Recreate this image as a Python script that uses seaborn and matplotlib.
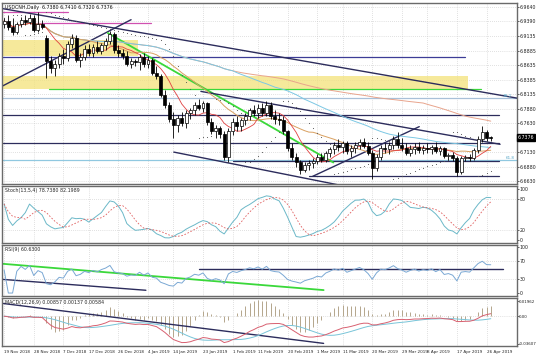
import numpy as np
import pandas as pd
import matplotlib
matplotlib.use("Agg")
import matplotlib.pyplot as plt
import matplotlib.transforms as mtransforms
import seaborn as sns

sns.set_theme(style="white")
plt.rcParams['font.family'] = ['Liberation Sans Narrow', 'DejaVu Sans']

# ---------------- data (daily USDCNH) ----------------
opens = [6.935, 6.940, 6.930, 6.920, 6.935, 6.942, 6.938, 6.945, 6.925, 6.935,
         6.910, 6.870, 6.858, 6.866, 6.880, 6.875, 6.900, 6.910, 6.872, 6.878,
         6.892, 6.885, 6.895, 6.888, 6.898, 6.905, 6.918, 6.890, 6.884, 6.880,
         6.866, 6.870, 6.868, 6.878, 6.865, 6.872, 6.850, 6.845, 6.812, 6.795,
         6.770, 6.760, 6.772, 6.764, 6.780, 6.785, 6.795, 6.790, 6.798, 6.765,
         6.750, 6.755, 6.745, 6.705, 6.750, 6.765, 6.758, 6.768, 6.775, 6.785,
         6.780, 6.790, 6.780, 6.795, 6.775, 6.770, 6.768, 6.750, 6.720, 6.705,
         6.695, 6.682, 6.690, 6.694, 6.698, 6.704, 6.700, 6.712, 6.718, 6.726,
         6.722, 6.728, 6.715, 6.720, 6.725, 6.730, 6.724, 6.712, 6.685, 6.705,
         6.720, 6.718, 6.725, 6.735, 6.725, 6.720, 6.712, 6.718, 6.722, 6.716,
         6.720, 6.718, 6.722, 6.715, 6.720, 6.706, 6.708, 6.703, 6.678, 6.702,
         6.704, 6.702, 6.716, 6.735, 6.748, 6.7380]
highs = [6.945, 6.950, 6.945, 6.938, 6.946, 6.950, 6.952, 6.950, 6.955, 6.942,
         6.915, 6.880, 6.872, 6.885, 6.892, 6.905, 6.918, 6.915, 6.885, 6.898,
         6.900, 6.900, 6.905, 6.902, 6.910, 6.922, 6.920, 6.898, 6.892, 6.888,
         6.876, 6.874, 6.882, 6.885, 6.880, 6.876, 6.862, 6.848, 6.820, 6.800,
         6.782, 6.778, 6.782, 6.785, 6.790, 6.800, 6.805, 6.802, 6.800, 6.772,
         6.760, 6.758, 6.750, 6.755, 6.772, 6.775, 6.772, 6.780, 6.790, 6.795,
         6.796, 6.798, 6.802, 6.800, 6.785, 6.780, 6.775, 6.752, 6.728, 6.712,
         6.700, 6.695, 6.700, 6.702, 6.710, 6.712, 6.715, 6.722, 6.730, 6.735,
         6.732, 6.732, 6.725, 6.730, 6.735, 6.738, 6.730, 6.716, 6.710, 6.725,
         6.728, 6.730, 6.740, 6.748, 6.738, 6.728, 6.725, 6.728, 6.730, 6.725,
         6.728, 6.726, 6.730, 6.724, 6.722, 6.712, 6.714, 6.706, 6.706, 6.708,
         6.710, 6.720, 6.740, 6.758, 6.752, 6.7410]
lows = [6.928, 6.925, 6.915, 6.918, 6.930, 6.932, 6.934, 6.920, 6.920, 6.926,
        6.842, 6.850, 6.845, 6.858, 6.866, 6.870, 6.893, 6.868, 6.860, 6.872,
        6.880, 6.878, 6.884, 6.882, 6.890, 6.900, 6.885, 6.878, 6.874, 6.862,
        6.858, 6.862, 6.855, 6.860, 6.858, 6.846, 6.840, 6.808, 6.790, 6.765,
        6.737, 6.748, 6.758, 6.755, 6.770, 6.778, 6.785, 6.782, 6.760, 6.745,
        6.738, 6.738, 6.700, 6.695, 6.742, 6.750, 6.750, 6.760, 6.768, 6.775,
        6.772, 6.775, 6.775, 6.770, 6.762, 6.760, 6.745, 6.715, 6.700, 6.688,
        6.675, 6.678, 6.682, 6.685, 6.692, 6.695, 6.696, 6.705, 6.710, 6.715,
        6.712, 6.710, 6.705, 6.712, 6.718, 6.720, 6.708, 6.667, 6.680, 6.700,
        6.712, 6.710, 6.718, 6.720, 6.715, 6.708, 6.706, 6.710, 6.712, 6.710,
        6.712, 6.710, 6.712, 6.708, 6.702, 6.700, 6.698, 6.672, 6.675, 6.698,
        6.698, 6.700, 6.712, 6.730, 6.733, 6.7320]
closes = [6.940, 6.930, 6.920, 6.935, 6.942, 6.938, 6.945, 6.925, 6.935, 6.930,
          6.870, 6.858, 6.866, 6.880, 6.875, 6.900, 6.910, 6.872, 6.878, 6.892,
          6.885, 6.895, 6.888, 6.898, 6.905, 6.918, 6.890, 6.884, 6.880, 6.866,
          6.870, 6.868, 6.878, 6.865, 6.872, 6.850, 6.845, 6.812, 6.795, 6.770,
          6.760, 6.772, 6.764, 6.780, 6.785, 6.795, 6.790, 6.798, 6.765, 6.750,
          6.755, 6.745, 6.705, 6.750, 6.765, 6.758, 6.768, 6.775, 6.785, 6.780,
          6.790, 6.780, 6.795, 6.775, 6.770, 6.768, 6.750, 6.720, 6.705, 6.695,
          6.682, 6.690, 6.694, 6.698, 6.704, 6.700, 6.712, 6.718, 6.726, 6.722,
          6.728, 6.715, 6.720, 6.725, 6.730, 6.724, 6.712, 6.685, 6.705, 6.720,
          6.718, 6.725, 6.735, 6.725, 6.720, 6.712, 6.718, 6.722, 6.716, 6.720,
          6.718, 6.722, 6.715, 6.720, 6.706, 6.708, 6.703, 6.678, 6.702, 6.704,
          6.702, 6.716, 6.735, 6.748, 6.738, 6.7376]

date_labels = ["19 Nov 2018", "28 Nov 2018", "7 Dec 2018", "17 Dec 2018", "26 Dec 2018",
               "4 Jan 2019", "14 Jan 2019", "23 Jan 2019", "1 Feb 2019", "11 Feb 2019",
               "20 Feb 2019", "1 Mar 2019", "11 Mar 2019", "20 Mar 2019", "29 Mar 2019",
               "8 Apr 2019", "17 Apr 2019", "26 Apr 2019"]
price_ticks = [6.9640, 6.9390, 6.9135, 6.8885, 6.8635, 6.8385, 6.8135, 6.7880,
               6.7630, 6.7130, 6.6880, 6.6630]
last_price = 6.7376
stoch_ticks = [100, 80, 20, 0]
rsi_ticks = [100, 70, 30, 0]
macd_ticks = [0.01962, 0.0, -0.03607]
macd_tick_labels = ["0.01962", "0.00", "-0.03607"]

title_main = "USDCNH,Daily  6.7380 6.7410 6.7320 6.7376"
title_stoch = "Stoch(13,5,4) 78.7380 82.1989"
title_rsi = "RSI(9) 60.6300"
title_macd = "MACD(12,26,9) 0.00857 0.00137 0.00584"

# drawn objects (bar index, price)
zones = [(-1, 31.6, 6.879, 6.9075), (-1, 109.7, 6.8225, 6.845)]
hlines = [(6.877, -1, 109, "#3c3c96"), (6.806, -1, 122, "#a8c0d8"),
          (6.778, -1, 117, "#2c2c5c"), (6.7295, -1, 117, "#2c2c5c"),
          (6.699, -1, 122, "#90c8e0"), (6.697, 54, 117, "#2c2c5c"),
          (6.672, 72, 117, "#2c2c5c"), (6.8225, 10.6, 112.7, "#3ad83a"),
          (6.955, -1, 15, "#d050b0"), (6.936, 7.5, 34.7, "#d050b0")]
tlines = [((-1, 6.962), (121.5, 6.806), "#2c2c5c", 1.0),
          ((-1, 6.825), (30, 6.942), "#2c2c5c", 1.0),
          ((24.5, 6.919), (77.8, 6.695), "#3ad83a", 1.3),
          ((46.5, 6.818), (117.2, 6.7265), "#2c2c5c", 1.0),
          ((40.1, 6.713), (81.6, 6.6525), "#2c2c5c", 1.0),
          ((72.9, 6.671), (98.1, 6.757), "#2c2c5c", 1.0)]
rsi_lines = [((-1, 63.8), (75.5, 6.4), "#3ad83a", 1.3),
             ((-1, 30.0), (33.5, 6.0), "#2c2c5c", 1.0),
             ((46, 51.0), (118, 51.0), "#2c2c5c", 1.0)]
macd_lines = [((-1, 0.017), (75.5, -0.0353), "#2c2c5c", 1.0)]

# ---------------- frame ----------------
n = len(closes)
dates = pd.bdate_range("2018-11-19", periods=n)
df = pd.DataFrame({"i": np.arange(n), "open": opens, "high": highs,
                   "low": lows, "close": closes}, index=dates)
c = df["close"]; h = df["high"]; l = df["low"]

df["ma_fast"] = c.rolling(8, min_periods=1).mean()
df["ma_mid"] = c.rolling(21, min_periods=1).mean()
df["ma_slow"] = c.rolling(55, min_periods=1).mean()
df["ma_vslow"] = c.rolling(100, min_periods=1).mean()

hh = h.rolling(13, min_periods=1).max(); ll = l.rolling(13, min_periods=1).min()
num = (c - ll).rolling(4, min_periods=1).sum(); den = (hh - ll).rolling(4, min_periods=1).sum()
df["stk"] = 100 * num / den.replace(0, np.nan)
df["std"] = df["stk"].rolling(5, min_periods=1).mean()
d = c.diff().fillna(0)
up = d.clip(lower=0).ewm(alpha=1/9, adjust=False).mean()
dn = (-d.clip(upper=0)).ewm(alpha=1/9, adjust=False).mean()
df["rsi"] = (100 - 100 / (1 + up / dn.replace(0, np.nan))).fillna(50)
df["macd"] = c.ewm(span=12, adjust=False).mean() - c.ewm(span=26, adjust=False).mean()
df["sig"] = df["macd"].rolling(9, min_periods=1).mean()
df["hist"] = df["macd"] - df["sig"]

def psar(hi, lo, step=0.02, mx=0.2):
    hi = np.asarray(hi); lo = np.asarray(lo)
    out = np.zeros(len(hi)); bull = False; af = step; ep = lo[0]; out[0] = hi[0]
    for k in range(1, len(hi)):
        s = out[k-1] + af * (ep - out[k-1])
        if bull:
            s = min(s, lo[k-1], lo[max(k-2, 0)])
            if lo[k] < s:
                bull = False; s = ep; ep = lo[k]; af = step
            elif hi[k] > ep:
                ep = hi[k]; af = min(af + step, mx)
        else:
            s = max(s, hi[k-1], hi[max(k-2, 0)])
            if hi[k] > s:
                bull = True; s = ep; ep = hi[k]; af = step
            elif lo[k] < ep:
                ep = lo[k]; af = min(af + step, mx)
        out[k] = s
    return out
df["sar"] = psar(h, l)

# ---------------- figure ----------------
W, H = 536, 358
fig = plt.figure(figsize=(W/100, H/100), dpi=100)
fig.patch.set_facecolor("white")

def box(top, bottom, left=2, right=517):
    return [left/W, 1 - bottom/H, (right-left)/W, (bottom-top)/H]

ax_p = fig.add_axes(box(3, 184))
ax_s = fig.add_axes(box(186, 243), sharex=ax_p)
ax_r = fig.add_axes(box(245, 296), sharex=ax_p)
ax_m = fig.add_axes(box(298, 346), sharex=ax_p)
axes = [ax_p, ax_s, ax_r, ax_m]

label_idx = [dates.get_loc(pd.to_datetime(s, format="%d %b %Y")) for s in date_labels]
grid_kw = dict(color="#c4c4c4", lw=0.5, linestyle=(0, (1, 2)), zorder=0)
FS = 3.4
for ax in axes:
    ax.set_facecolor("white")
    for sp in ax.spines.values():
        sp.set_color("#6a6a6a"); sp.set_linewidth(1.0)
    for xi in label_idx:
        ax.axvline(xi, **grid_kw)
    ax.yaxis.tick_right()
    ax.tick_params(axis="y", labelsize=FS, length=1.2, pad=0.6, colors="#222222", width=0.5)
    ax.tick_params(axis="x", length=0, labelbottom=False)

# --- main panel
ax_p.set_ylim(6.6578, 6.9709)
for yv in price_ticks:
    ax_p.axhline(yv, **grid_kw)
for x0, x1, y0, y1 in zones:
    ax_p.fill_between([x0, x1], y0, y1, color="#f3e27a", alpha=0.75, lw=0, zorder=1)
for yv, x0, x1, col in hlines:
    ax_p.plot([x0, x1], [yv, yv], color=col, lw=0.9, zorder=2)
for (x0, y0), (x1, y1), col, lw in tlines:
    ax_p.plot([x0, x1], [y0, y1], color=col, lw=lw, zorder=2)

sns.lineplot(x=df["i"], y=df["ma_vslow"], ax=ax_p, color="#e8a48c", lw=0.7, zorder=3)
sns.lineplot(x=df["i"], y=df["ma_slow"], ax=ax_p, color="#7cc8e4", lw=0.7, zorder=3)
sns.lineplot(x=df["i"], y=df["ma_mid"], ax=ax_p, color="#d9a060", lw=0.7, zorder=3)
sns.lineplot(x=df["i"], y=df["ma_fast"], ax=ax_p, color="#e04040", lw=0.6, zorder=3)
ax_p.scatter(df["i"], df["sar"], s=0.6, color="#555555", zorder=3, linewidths=0)

bull = df["close"] >= df["open"]
ax_p.vlines(df["i"], df["low"], df["high"], color="black", lw=0.6, zorder=4)
body_lo = np.minimum(df["open"], df["close"])
body_h = (df["close"] - df["open"]).abs().clip(lower=0.0008)
ax_p.bar(df["i"][bull], body_h[bull], bottom=body_lo[bull], width=0.7, color="white",
         edgecolor="black", linewidth=0.5, zorder=5)
ax_p.bar(df["i"][~bull], body_h[~bull], bottom=body_lo[~bull], width=0.7, color="black",
         edgecolor="black", linewidth=0.5, zorder=5)

ax_p.set_yticks(price_ticks)
ax_p.set_yticklabels([f"{v:.4f}" for v in price_ticks])
trans = mtransforms.blended_transform_factory(ax_p.transAxes, ax_p.transData)
ax_p.text(1.002, last_price, f"{last_price:.4f}", transform=trans, fontsize=FS, color="white",
          va="center", ha="left", bbox=dict(boxstyle="square,pad=0.2", fc="black", ec="black"))
ax_p.text(119.5, 6.700, "61.8", fontsize=3.0, color="#5aa8c8", va="bottom", ha="center", zorder=6)
ax_p.text(119.0, 6.807, "38.2", fontsize=3.0, color="#5aa8c8", va="bottom", ha="center", zorder=6)
ax_p.text(0.006, 0.99, title_main, transform=ax_p.transAxes, fontsize=FS, va="top", ha="left",
          color="#111111")

# --- stochastic
ax_s.set_ylim(-5.8, 105.8)
for yv in [80, 20]:
    ax_s.axhline(yv, **grid_kw)
sns.lineplot(x=df["i"], y=df["stk"], ax=ax_s, color="#6bb8c8", lw=0.7)
sns.lineplot(x=df["i"], y=df["std"], ax=ax_s, color="#e06060", lw=0.6, linestyle=(0, (2, 2)))
ax_s.set_yticks(stoch_ticks); ax_s.set_yticklabels([str(v) for v in stoch_ticks])
ax_s.text(0.006, 0.96, title_stoch, transform=ax_s.transAxes, fontsize=FS, va="top", ha="left")

# --- RSI
ax_r.set_ylim(-6.4, 104)
for yv in [70, 30]:
    ax_r.axhline(yv, **grid_kw)
for (x0, y0), (x1, y1), col, lw in rsi_lines:
    ax_r.plot([x0, x1], [y0, y1], color=col, lw=lw, zorder=2)
sns.lineplot(x=df["i"], y=df["rsi"], ax=ax_r, color="#7aa8d4", lw=0.7, zorder=3)
ax_r.set_yticks(rsi_ticks); ax_r.set_yticklabels([str(v) for v in rsi_ticks])
ax_r.text(0.006, 0.96, title_rsi, transform=ax_r.transAxes, fontsize=FS, va="top", ha="left")

# --- MACD
ax_m.set_ylim(-0.0387, 0.0236)
ax_m.axhline(0, **grid_kw)
ax_m.vlines(df["i"], 0, df["hist"] * 2, color="#b4a68c", lw=0.7, zorder=2)
for (x0, y0), (x1, y1), col, lw in macd_lines:
    ax_m.plot([x0, x1], [y0, y1], color=col, lw=lw, zorder=2)
sns.lineplot(x=df["i"], y=df["sig"], ax=ax_m, color="#78c4d8", lw=0.7, zorder=3)
sns.lineplot(x=df["i"], y=df["macd"], ax=ax_m, color="#d86070", lw=0.7, zorder=3)
ax_m.set_yticks(macd_ticks); ax_m.set_yticklabels(macd_tick_labels)
ax_m.tick_params(axis="y", labelsize=2.9, pad=0.4)
ax_m.text(0.006, 0.96, title_macd, transform=ax_m.transAxes, fontsize=FS, va="top", ha="left")

ax_m.set_xticks(label_idx)
ax_m.set_xticklabels(date_labels, ha="left")
ax_m.tick_params(axis="x", labelbottom=True, labelsize=3.0, length=1.2, pad=1.5, width=0.5)
for ax in axes:
    ax.set_xlabel(""); ax.set_ylabel("")
ax_p.set_xlim(-0.5, 121.2)

fig.savefig("out.png", dpi=100, facecolor="white")
